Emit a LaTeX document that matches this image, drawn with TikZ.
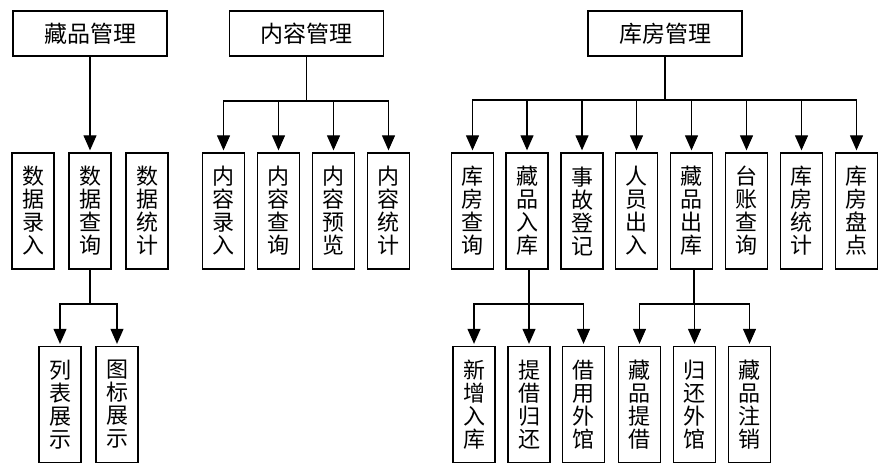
\documentclass[tikz,border=0pt]{standalone}
\usepackage{fontspec}
\newfontfamily\cjk{Noto Sans CJK SC}
\usepackage{tikz}
\usetikzlibrary{arrows.meta}

\tikzset{
  topbox/.style={draw, line width=1.3pt, minimum width=154pt, minimum height=45pt, inner sep=0pt, font=\cjk\fontsize{23}{25}\selectfont},
  vbox/.style={draw, line width=1.3pt, minimum width=42pt, minimum height=116pt, inner sep=0pt, align=center, font=\cjk\fontsize{22}{23}\selectfont},
  arr/.style={line width=1.1pt, -{Triangle[length=15pt, width=13pt]}, shorten >=2pt},
  ln/.style={line width=1.1pt}
}

\begin{document}
\begin{tikzpicture}[x=1pt, y=-1pt]
\useasboundingbox (0,0) rectangle (882,465);

\node[topbox] (zp) at (90,33.5) {藏品管理};
\node[topbox] (nr) at (306.5,33.5) {内容管理};
\node[topbox] (kf) at (665,33.5) {库房管理};

\node[vbox] (zp1) at (33,211) {数\\据\\录\\入};
\node[vbox] (zp2) at (90,211) {数\\据\\查\\询};
\node[vbox] (zp3) at (147,211) {数\\据\\统\\计};

\node[vbox] (nr1) at (223.5,211) {内\\容\\录\\入};
\node[vbox] (nr2) at (278.5,211) {内\\容\\查\\询};
\node[vbox] (nr3) at (333.5,211) {内\\容\\预\\览};
\node[vbox] (nr4) at (388.5,211) {内\\容\\统\\计};

\node[vbox] (kf1) at (472.5,211) {库\\房\\查\\询};
\node[vbox] (kf2) at (527,211) {藏\\品\\入\\库};
\node[vbox] (kf3) at (582,211) {事\\故\\登\\记};
\node[vbox] (kf4) at (636.5,211) {人\\员\\出\\入};
\node[vbox] (kf5) at (691.5,211) {藏\\品\\出\\库};
\node[vbox] (kf6) at (746.5,211) {台\\账\\查\\询};
\node[vbox] (kf7) at (801.5,211) {库\\房\\统\\计};
\node[vbox] (kf8) at (856.5,211) {库\\房\\盘\\点};

\node[vbox] (cx1) at (60,404.5) {列\\表\\展\\示};
\node[vbox] (cx2) at (117,404.5) {图\\标\\展\\示};

\node[vbox] (rk1) at (474,404.5) {新\\增\\入\\库};
\node[vbox] (rk2) at (529,404.5) {提\\借\\归\\还};
\node[vbox] (rk3) at (583.5,404.5) {借\\用\\外\\馆};

\node[vbox] (ck1) at (639.5,404.5) {藏\\品\\提\\借};
\node[vbox] (ck2) at (694.5,404.5) {归\\还\\外\\馆};
\node[vbox] (ck3) at (749.5,404.5) {藏\\品\\注\\销};

\draw[arr] (zp) -- (zp2);

\coordinate (nrbus) at (306.5,101);
\draw[ln] (nr) -- (nrbus);
\foreach \c in {nr1,nr2,nr3,nr4}
  \draw[arr] (nrbus) -| (\c.north);

\coordinate (kfbus) at (665,100);
\draw[ln] (kf) -- (kfbus);
\foreach \c in {kf1,kf2,kf3,kf4,kf5,kf6,kf7,kf8}
  \draw[arr] (kfbus) -| (\c.north);

\coordinate (cxbus) at (90,304);
\draw[ln] (zp2) -- (cxbus);
\foreach \c in {cx1,cx2}
  \draw[arr] (cxbus) -| (\c.north);

\coordinate (rkbus) at (529,304);
\draw[ln] (kf2.south -| rkbus) -- (rkbus);
\foreach \c in {rk1,rk2,rk3}
  \draw[arr] (rkbus) -| (\c.north);

\coordinate (ckbus) at (694,304);
\draw[ln] (kf5.south -| ckbus) -- (ckbus);
\foreach \c in {ck1,ck2,ck3}
  \draw[arr] (ckbus) -| (\c.north);
\end{tikzpicture}
\end{document}
